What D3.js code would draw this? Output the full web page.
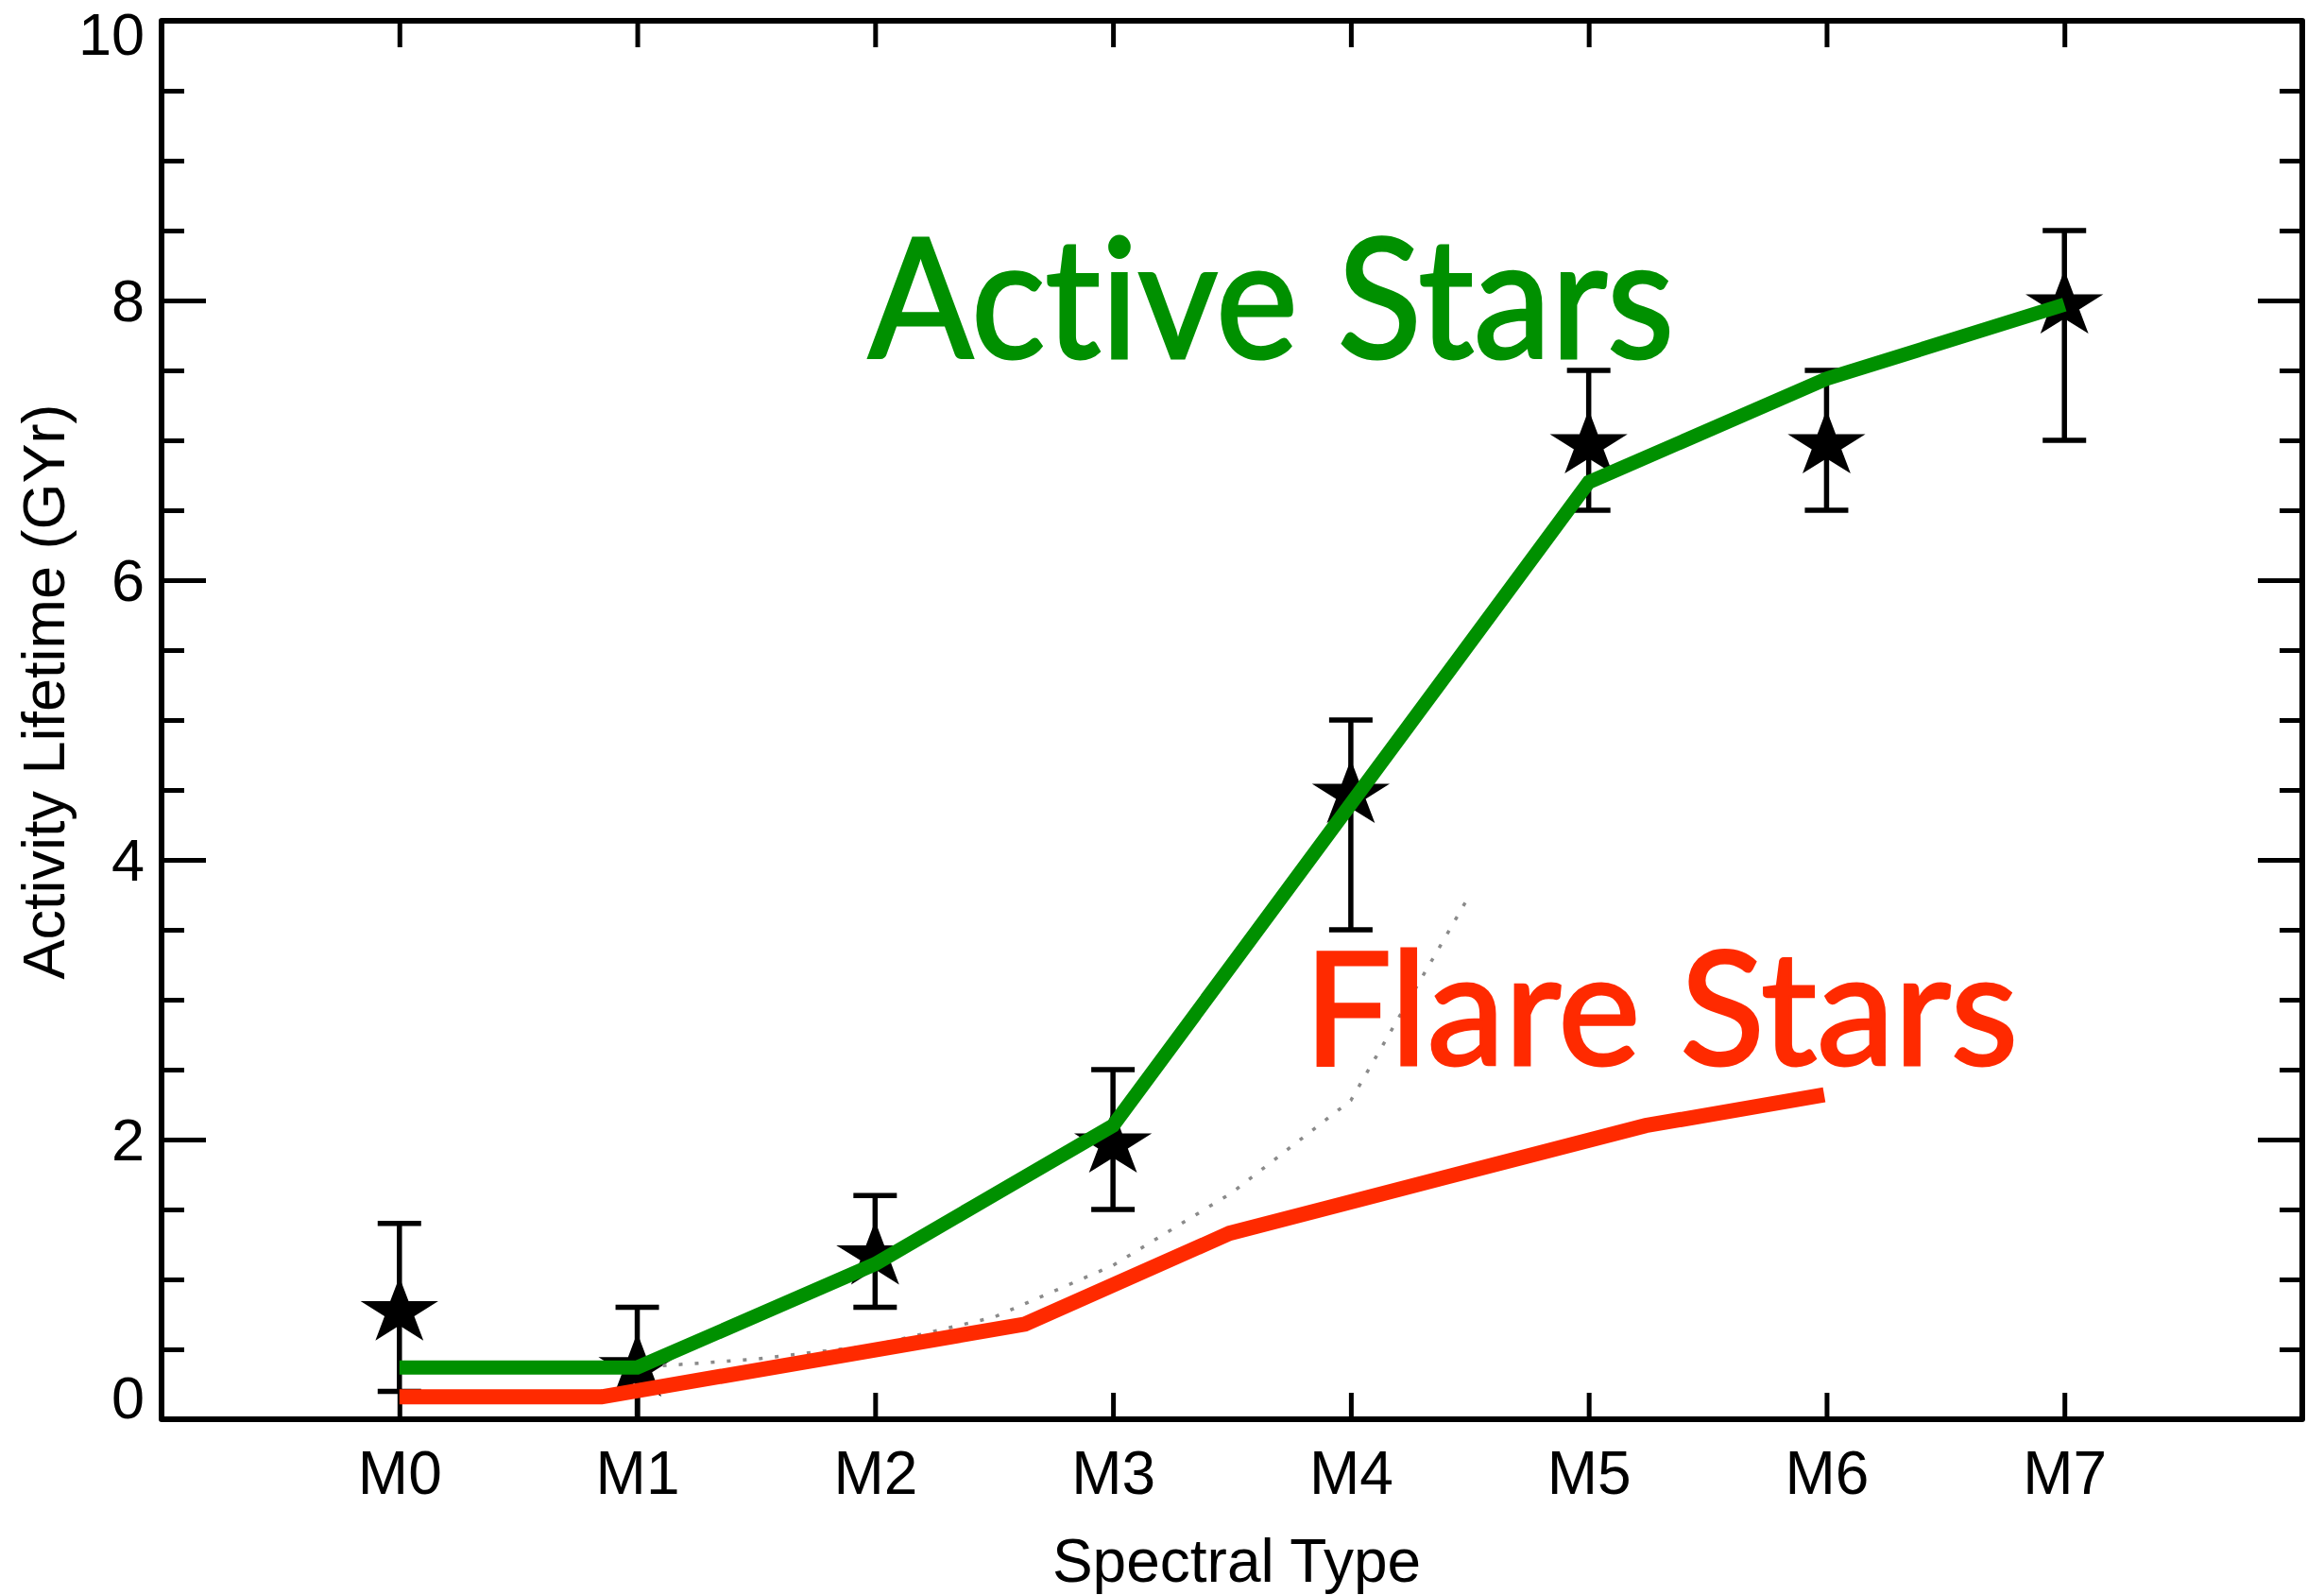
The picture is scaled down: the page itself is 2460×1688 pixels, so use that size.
<!DOCTYPE html>
<html>
<head>
<meta charset="utf-8">
<script src="https://cdn.jsdelivr.net/npm/d3@7"></script>
<style>
  html, body { margin: 0; padding: 0; background: #fff; }
  svg { display: block; }
  .big { font-variant-ligatures: none; font-feature-settings: "liga" 0, "clig" 0; }
</style>
</head>
<body>
<svg id="chart" width="2460" height="1688"></svg>
<script>
// values
var spectralTypes = ["M0", "M1", "M2", "M3", "M4", "M5", "M6", "M7"];
var starValues = [0.8, 0.4, 1.2, 2.0, 4.5, 7.0, 7.0, 8.0];
var errLow = [0.2, 0.0, 0.8, 1.5, 3.5, 6.5, 6.5, 7.0];
var errHigh = [1.4, 0.8, 1.6, 2.5, 5.0, 7.5, 7.5, 8.5];

var activeX = [0, 1, 2, 3, 4, 5, 6, 7];
var activeY = [0.37, 0.37, 1.11, 2.10, 4.40, 6.70, 7.44, 7.97];

var flareX = [0, 0.85, 2.63, 3.49, 5.24, 5.99];
var flareY = [0.16, 0.16, 0.68, 1.33, 2.10, 2.32];

var dotX = [0.5, 1, 1.5, 2, 2.5, 3, 3.5, 4, 4.5];
var dotY = [0.35, 0.37, 0.43, 0.53, 0.73, 1.10, 1.62, 2.28, 3.75];

var yMajor = [0, 2, 4, 6, 8, 10];

var margin = {top: 22, right: 23, bottom: 186, left: 171},
    width = 2460 - margin.left - margin.right,
    height = 1688 - margin.top - margin.bottom;

var green = "#009000", red = "#ff2a00";
var axisFont = "'Liberation Sans', Arial, Helvetica, sans-serif";

var svg = d3.select("#chart");
var g = svg.append("g").attr("transform", "translate(" + margin.left + "," + margin.top + ")");

var x = d3.scaleLinear().domain([-1, 8]).range([0, width]);
var y = d3.scaleLinear().domain([0, 10]).range([height, 0]);

// minor y ticks (both sides)
var yMinor = d3.range(0, 10.01, 0.5).filter(function(v) { return v % 2 !== 0; });
[d3.axisLeft(y), d3.axisRight(y)].forEach(function(ax, i) {
    g.append("g")
        .attr("transform", i ? "translate(" + width + ",0)" : null)
        .call(ax.tickValues(yMinor).tickSize(-24).tickFormat(""))
        .call(function(s) { s.select(".domain").remove(); })
        .selectAll("line").attr("stroke", "#000").attr("stroke-width", 5);
});

// major y ticks, labels on the left
var leftAxis = g.append("g")
    .call(d3.axisLeft(y).tickValues(yMajor).tickSize(-47).tickPadding(18).tickFormat(d3.format("d")));
leftAxis.select(".domain").remove();
leftAxis.selectAll("line").attr("stroke", "#000").attr("stroke-width", 5);
leftAxis.selectAll("text")
    .attr("font-family", axisFont).attr("font-size", 63).attr("fill", "#000")
    .attr("dy", function(d) { return d === 0 ? "-0.03em" : d === 10 ? "0.57em" : "0.34em"; });

var rightAxis = g.append("g")
    .attr("transform", "translate(" + width + ",0)")
    .call(d3.axisRight(y).tickValues(yMajor).tickSize(-47).tickFormat(""));
rightAxis.select(".domain").remove();
rightAxis.selectAll("line").attr("stroke", "#000").attr("stroke-width", 5);

// x ticks
var bottomAxis = g.append("g")
    .attr("transform", "translate(0," + height + ")")
    .call(d3.axisBottom(x).tickValues(d3.range(spectralTypes.length)).tickSize(-28).tickPadding(34)
        .tickFormat(function(i) { return spectralTypes[i]; }));
bottomAxis.select(".domain").remove();
bottomAxis.selectAll("line").attr("stroke", "#000").attr("stroke-width", 5);
bottomAxis.selectAll("text")
    .attr("font-family", axisFont).attr("font-size", 64).attr("fill", "#000");

var topAxis = g.append("g")
    .call(d3.axisTop(x).tickValues(d3.range(spectralTypes.length)).tickSize(-28).tickFormat(""));
topAxis.select(".domain").remove();
topAxis.selectAll("line").attr("stroke", "#000").attr("stroke-width", 5);

// frame
g.append("rect")
    .attr("width", width).attr("height", height)
    .attr("fill", "none").attr("stroke", "#000").attr("stroke-width", 6)
    .attr("stroke-linejoin", "round");

// error bars
var idx = d3.range(spectralTypes.length);
var bars = g.append("g").attr("stroke", "#000").attr("stroke-width", 5.5);
bars.selectAll("line.v").data(idx).enter().append("line")
    .attr("x1", function(i) { return x(i); }).attr("x2", function(i) { return x(i); })
    .attr("y1", function(i) { return y(errLow[i]); }).attr("y2", function(i) { return y(errHigh[i]); });
bars.selectAll("line.hi").data(idx).enter().append("line")
    .attr("x1", function(i) { return x(i) - 23; }).attr("x2", function(i) { return x(i) + 23; })
    .attr("y1", function(i) { return y(errHigh[i]); }).attr("y2", function(i) { return y(errHigh[i]); });
bars.selectAll("line.lo").data(idx).enter().append("line")
    .attr("x1", function(i) { return x(i) - 23; }).attr("x2", function(i) { return x(i) + 23; })
    .attr("y1", function(i) { return y(errLow[i]); }).attr("y2", function(i) { return y(errLow[i]); });

// star markers
var star = d3.symbol().type(d3.symbolStar).size(2100);
g.selectAll("path.star").data(idx).enter().append("path")
    .attr("class", "star")
    .attr("d", star)
    .attr("transform", function(i) { return "translate(" + x(i) + "," + (y(starValues[i]) + 5) + ") scale(1,0.86)"; })
    .attr("fill", "#000");

var line = d3.line()
    .x(function(d) { return x(d[0]); })
    .y(function(d) { return y(d[1]); });

// dotted model curve
g.append("path")
    .datum(d3.zip(dotX, dotY))
    .attr("d", line)
    .attr("fill", "none").attr("stroke", "#8a8a8a").attr("stroke-width", 3.5)
    .attr("stroke-dasharray", "4,13");

// active stars
g.append("path")
    .datum(d3.zip(activeX, activeY))
    .attr("d", line)
    .attr("fill", "none").attr("stroke", green).attr("stroke-width", 15)
    .attr("stroke-linejoin", "miter");

// flare stars
g.append("path")
    .datum(d3.zip(flareX, flareY))
    .attr("d", line)
    .attr("fill", "none").attr("stroke", red).attr("stroke-width", 16)
    .attr("stroke-linejoin", "miter");

// big labels
svg.append("text")
    .attr("class", "big")
    .attr("x", 919).attr("y", 379)
    .attr("font-family", "Lato, 'Open Sans', sans-serif").attr("font-size", 177)
    .attr("textLength", 853).attr("lengthAdjust", "spacingAndGlyphs")
    .attr("fill", green).attr("stroke", green).attr("stroke-width", 3)
    .text("Active Stars");

svg.append("text")
    .attr("class", "big")
    .attr("x", 1380).attr("y", 1127)
    .attr("font-family", "Lato, 'Open Sans', sans-serif").attr("font-size", 166)
    .attr("textLength", 756).attr("lengthAdjust", "spacingAndGlyphs")
    .attr("fill", red).attr("stroke", red).attr("stroke-width", 3)
    .text("Flare Stars");

// axis titles
svg.append("text")
    .attr("x", margin.left + width / 2 + 5).attr("y", 1674)
    .attr("text-anchor", "middle")
    .attr("font-family", axisFont).attr("font-size", 64)
    .text("Spectral Type");

svg.append("text")
    .attr("transform", "translate(68,732) rotate(-90)")
    .attr("text-anchor", "middle")
    .attr("font-family", axisFont).attr("font-size", 63)
    .text("Activity Lifetime (GYr)");
</script>
</body>
</html>
